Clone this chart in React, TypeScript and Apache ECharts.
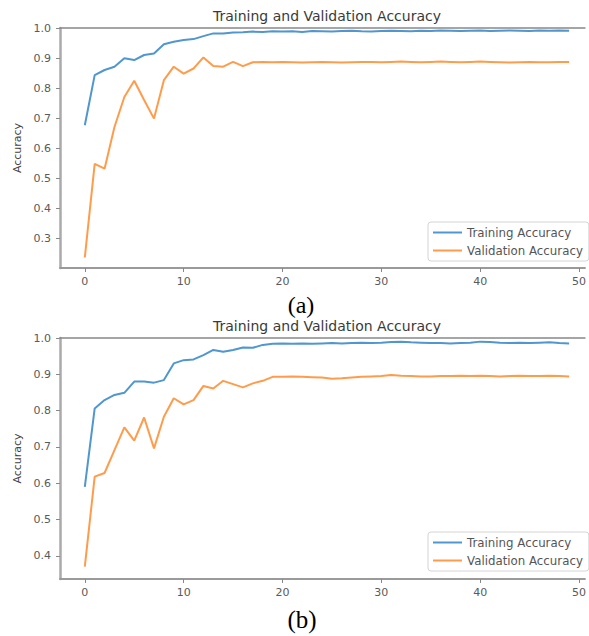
import React, { useEffect, useRef } from "react";
import * as echarts from "echarts";

const epochs: number[] = Array.from({ length: 50 }, (_, i) => i);

const trainA = [
  0.676, 0.843, 0.860, 0.871, 0.899, 0.893, 0.910, 0.915, 0.946, 0.954,
  0.960, 0.963, 0.973, 0.982, 0.982, 0.985, 0.986, 0.988, 0.987, 0.989,
  0.988, 0.989, 0.987, 0.990, 0.989, 0.988, 0.990, 0.991, 0.989, 0.988,
  0.990, 0.991, 0.990, 0.989, 0.991, 0.990, 0.992, 0.991, 0.990, 0.991,
  0.992, 0.990, 0.991, 0.992, 0.991, 0.990, 0.992, 0.991, 0.992, 0.991,
];
const valA = [
  0.235, 0.547, 0.531, 0.670, 0.770, 0.824, 0.760, 0.698, 0.826, 0.871,
  0.848, 0.865, 0.902, 0.873, 0.871, 0.887, 0.873, 0.886, 0.887, 0.886,
  0.887, 0.886, 0.885, 0.886, 0.887, 0.886, 0.885, 0.886, 0.887, 0.887,
  0.886, 0.887, 0.888, 0.887, 0.886, 0.887, 0.888, 0.887, 0.886, 0.887,
  0.888, 0.887, 0.886, 0.885, 0.886, 0.887, 0.886, 0.886, 0.887, 0.887,
];
const trainB = [
  0.590, 0.806, 0.829, 0.843, 0.849, 0.880, 0.880, 0.877, 0.884, 0.930,
  0.939, 0.941, 0.953, 0.967, 0.962, 0.967, 0.974, 0.973, 0.981, 0.984,
  0.985, 0.984, 0.985, 0.984, 0.985, 0.986, 0.985, 0.986, 0.987, 0.986,
  0.987, 0.989, 0.990, 0.988, 0.987, 0.986, 0.986, 0.985, 0.986, 0.987,
  0.990, 0.989, 0.987, 0.986, 0.987, 0.986, 0.987, 0.988, 0.986, 0.985,
];
const valB = [
  0.370, 0.618, 0.628, 0.691, 0.754, 0.717, 0.781, 0.696, 0.783, 0.834,
  0.817, 0.829, 0.868, 0.861, 0.882, 0.873, 0.864, 0.875, 0.882, 0.893,
  0.893, 0.894, 0.893, 0.892, 0.891, 0.888, 0.889, 0.891, 0.893, 0.894,
  0.895, 0.898, 0.896, 0.895, 0.894, 0.894, 0.895, 0.895, 0.896, 0.895,
  0.896, 0.895, 0.894, 0.895, 0.896, 0.895, 0.895, 0.896, 0.895, 0.894,
];

const xTicks = [0, 10, 20, 30, 40, 50];
const yTicksA = [0.3, 0.4, 0.5, 0.6, 0.7, 0.8, 0.9, 1.0];
const yTicksB = [0.4, 0.5, 0.6, 0.7, 0.8, 0.9, 1.0];

const TITLE = "Training and Validation Accuracy";
const NAME_TRAIN = "Training Accuracy";
const NAME_VAL = "Validation Accuracy";
const Y_NAME = "Accuracy";

const BLUE = "#5096cf";
const ORANGE = "#ff9c4c";
const FONT = "DejaVu Sans";

function makeXAxis(gridIndex: number) {
  return {
    type: "value",
    gridIndex,
    min: -2.51,
    max: 50.6,
    splitLine: { show: false },
    axisLine: { show: true, onZero: false, lineStyle: { color: "#9a9a9a", width: 2 } },
    axisTick: { show: true, customValues: xTicks, length: 4, lineStyle: { color: "#888" } },
    axisLabel: {
      customValues: xTicks,
      margin: 8,
      fontSize: 11,
      color: "#5a5a5a",
      fontFamily: FONT,
    },
  };
}

function makeTopAxis(gridIndex: number) {
  return {
    type: "value",
    gridIndex,
    position: "top",
    min: -2.51,
    max: 50.6,
    splitLine: { show: false },
    axisLine: { show: true, onZero: false, lineStyle: { color: "#888", width: 1.5 } },
    axisTick: { show: false },
    axisLabel: { show: false },
  };
}

function makeYAxis(gridIndex: number, min: number, ticks: number[]) {
  return {
    type: "value",
    gridIndex,
    min,
    max: 1.0,
    name: Y_NAME,
    nameLocation: "middle",
    nameGap: 34,
    nameTextStyle: { fontSize: 11, color: "#444", fontFamily: FONT },
    splitLine: { show: false },
    axisLine: { show: true, onZero: false, lineStyle: { color: "#aaa", width: 2.5 } },
    axisTick: { show: true, customValues: ticks, length: 4, lineStyle: { color: "#888" } },
    axisLabel: {
      customValues: ticks,
      margin: 9,
      fontSize: 11,
      color: "#5a5a5a",
      fontFamily: FONT,
      formatter: (v: number) => v.toFixed(1),
    },
  };
}

function makeLegend(top: number) {
  return {
    left: 428,
    top,
    orient: "vertical",
    data: [NAME_TRAIN, NAME_VAL],
    icon: "rect",
    itemWidth: 29,
    itemHeight: 2,
    itemGap: 5,
    padding: [4, 6, 4, 5],
    backgroundColor: "#fff",
    borderColor: "#d4d4d4",
    borderWidth: 1,
    borderRadius: 3,
    selectedMode: false,
    textStyle: { fontSize: 11.8, color: "#555", fontFamily: FONT, lineHeight: 13 },
  };
}

function toPoints(vals: number[]) {
  return epochs.map((e, i) => [e, vals[i]]);
}

function lineSeries(name: string, vals: number[], color: string, idx: number) {
  return {
    type: "line",
    name,
    xAxisIndex: idx,
    yAxisIndex: idx,
    data: toPoints(vals),
    showSymbol: false,
    symbol: "none",
    color,
    lineStyle: { color, width: 2 },
  };
}

export default function App() {
  const ref = useRef<HTMLDivElement>(null);

  useEffect(() => {
    document.body.style.margin = "0";
    if (!ref.current) return;
    const chart = echarts.init(ref.current, undefined, { renderer: "svg" });
    chart.setOption({
      animation: false,
      backgroundColor: "#fff",
      grid: [
        { left: 60, top: 28, right: 0, height: 240 },
        { left: 60, top: 338, right: 0, height: 241 },
      ],
      xAxis: [makeXAxis(0), makeXAxis(1), makeTopAxis(0), makeTopAxis(1)],
      yAxis: [makeYAxis(0, 0.2, yTicksA), makeYAxis(1, 0.336, yTicksB)],
      legend: [makeLegend(222), makeLegend(532)],
      series: [
        lineSeries(NAME_TRAIN, trainA, BLUE, 0),
        lineSeries(NAME_VAL, valA, ORANGE, 0),
        lineSeries(NAME_TRAIN, trainB, BLUE, 1),
        lineSeries(NAME_VAL, valB, ORANGE, 1),
      ],
      graphic: [
        {
          type: "text",
          x: 327,
          y: 16,
          style: { text: TITLE, align: "center", verticalAlign: "middle", font: `14px "${FONT}"`, fill: "#3a3a3a" },
        },
        {
          type: "text",
          x: 327,
          y: 326,
          style: { text: TITLE, align: "center", verticalAlign: "middle", font: `14px "${FONT}"`, fill: "#3a3a3a" },
        },
        {
          type: "text",
          x: 301,
          y: 305,
          style: { text: "(a)", align: "center", verticalAlign: "middle", font: `24px "Liberation Serif"`, fill: "#000" },
        },
        {
          type: "text",
          x: 302,
          y: 619,
          style: { text: "(b)", align: "center", verticalAlign: "middle", font: `25px "Liberation Serif"`, fill: "#000" },
        },
      ],
    });
    return () => chart.dispose();
  }, []);

  return <div ref={ref} style={{ width: 589, height: 636 }} />;
}
